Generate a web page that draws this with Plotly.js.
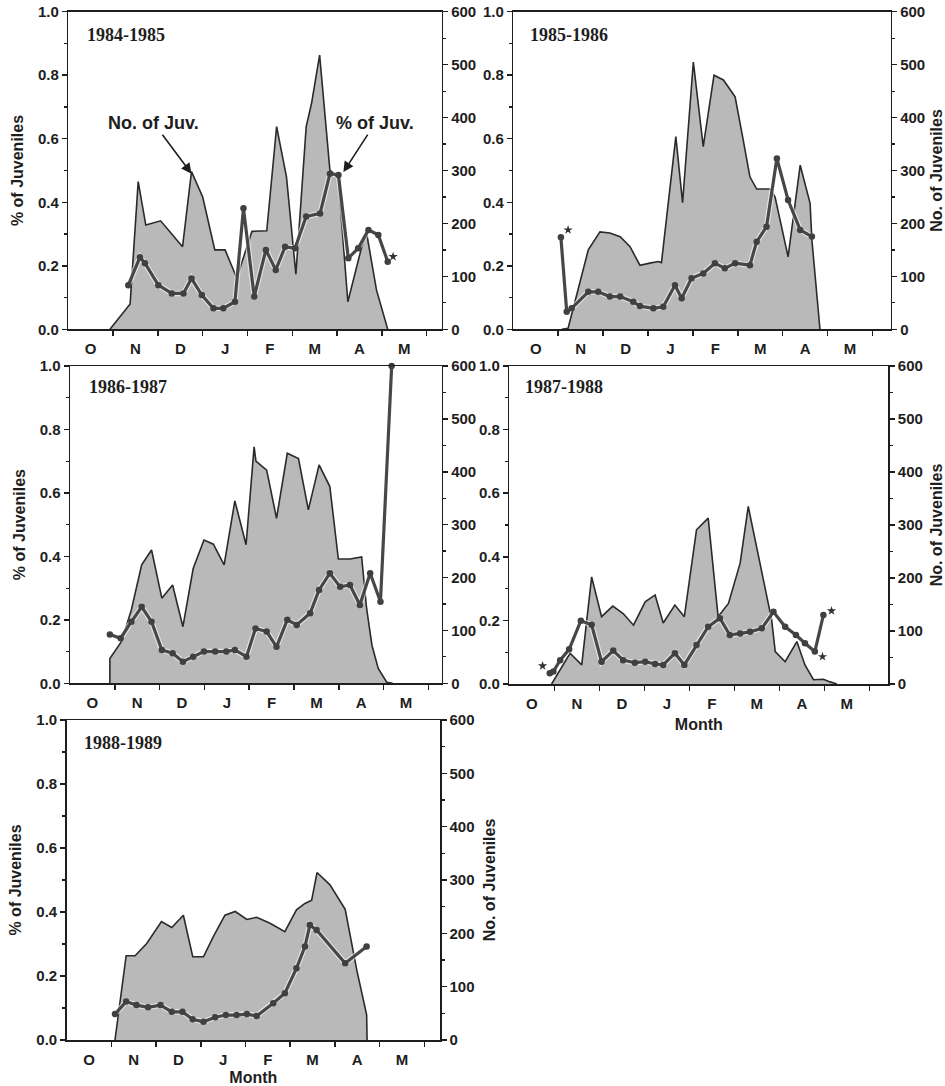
<!DOCTYPE html>
<html><head><meta charset="utf-8">
<script src="https://cdn.plot.ly/plotly-3.0.1.min.js"></script>
<style>html,body{margin:0;padding:0;background:#fff}</style>
</head><body><div id="chart" style="width:945px;height:1086px"></div>
<script>
// ---------- data ----------
const monthLabels = ['O','N','D','J','F','M','A','M'];
const monthCenters = [0.5,1.5,2.5,3.5,4.5,5.5,6.5,7.5];
const monthBounds = [1,2,3,4,5,6,7,8];
const seasons = ['1984-1985','1985-1986','1986-1987','1987-1988','1988-1989'];

// x values are in months since 1 October
const areaX1 = [0.93,1.38,1.56,1.73,2.06,2.55,2.75,3.00,3.27,3.50,3.76,4.10,4.43,4.65,4.87,5.08,5.31,5.43,5.61,5.84,6.02,6.24,6.55,6.66,6.88,7.13];
const areaN1 = [0,48,279,197,205,156,298,250,150,150,97,185,186,383,288,104,383,427,518,300,290,52,156,181,74,0];
const pctX1 = [1.34,1.60,1.71,2.01,2.31,2.57,2.75,2.98,3.24,3.46,3.72,3.91,4.15,4.41,4.63,4.84,5.06,5.31,5.62,5.84,6.03,6.25,6.47,6.70,6.92,7.13];
const pctP1 = [0.139,0.227,0.208,0.139,0.113,0.113,0.160,0.108,0.066,0.066,0.087,0.381,0.103,0.25,0.187,0.26,0.255,0.355,0.365,0.49,0.486,0.224,0.255,0.313,0.297,0.213];
const starX1 = [7.25]; const starP1 = [0.229];

const areaX2 = [1.08,1.22,1.67,1.93,2.15,2.38,2.60,2.82,3.04,3.23,3.30,3.62,3.77,4.01,4.23,4.47,4.68,4.94,5.12,5.27,5.42,5.72,5.83,6.12,6.39,6.61,6.65,6.83];
const areaN2 = [0,2,150,184,182,175,156,121,125,128,126,364,239,505,345,480,471,439,358,288,265,265,250,137,310,238,169,0];
const pctX2 = [1.06,1.19,1.30,1.67,1.89,2.15,2.38,2.67,2.82,3.12,3.34,3.60,3.75,3.97,4.23,4.49,4.71,4.94,5.27,5.42,5.64,5.87,6.12,6.39,6.65];
const pctP2 = [0.29,0.055,0.066,0.118,0.118,0.103,0.103,0.087,0.073,0.066,0.071,0.139,0.098,0.161,0.176,0.208,0.192,0.208,0.202,0.276,0.323,0.538,0.407,0.313,0.292];
const starX2 = [1.22]; const starP2 = [0.313];

const areaX3 = [0.89,0.89,1.15,1.37,1.60,1.82,2.05,2.29,2.52,2.75,2.99,3.20,3.44,3.68,3.93,4.11,4.15,4.39,4.61,4.85,5.10,5.32,5.56,5.80,5.99,6.25,6.51,6.62,6.74,6.88,7.07,7.20];
const areaN3 = [0,47,79,139,224,252,161,186,107,217,271,263,224,345,262,447,420,403,312,435,425,328,413,372,235,235,239,142,72,28,2,0];
const pctX3 = [0.89,1.13,1.37,1.60,1.82,2.05,2.29,2.52,2.75,2.99,3.24,3.49,3.68,3.94,4.14,4.39,4.61,4.85,5.06,5.36,5.56,5.80,6.03,6.25,6.47,6.70,6.93,7.18];
const pctP3 = [0.154,0.142,0.194,0.241,0.194,0.105,0.095,0.068,0.084,0.1,0.1,0.1,0.105,0.084,0.173,0.163,0.115,0.2,0.184,0.221,0.294,0.347,0.304,0.31,0.247,0.347,0.257,1.0];
const starX3 = [7.33]; const starP3 = [1.013];

const areaX4 = [0.94,1.35,1.61,1.83,2.05,2.30,2.53,2.76,3.02,3.24,3.42,3.68,3.89,4.16,4.42,4.64,4.87,5.13,5.31,5.57,5.83,5.91,6.13,6.39,6.57,6.76,6.98,7.13,7.28];
const areaN4 = [0,58,36,202,127,147,133,111,155,168,115,149,127,291,313,127,152,228,335,228,121,61,42,80,36,8,9,4,0];
const pctX4 = [0.90,0.98,1.13,1.33,1.59,1.83,2.05,2.31,2.53,2.79,3.02,3.24,3.42,3.68,3.89,4.16,4.42,4.68,4.90,5.13,5.35,5.61,5.87,6.13,6.37,6.57,6.79,6.98];
const pctP4 = [0.034,0.039,0.075,0.109,0.199,0.186,0.070,0.105,0.075,0.067,0.070,0.063,0.060,0.097,0.060,0.123,0.180,0.207,0.154,0.159,0.164,0.175,0.227,0.180,0.154,0.128,0.102,0.217];
const starX4 = [0.74,6.96,7.16]; const starP4 = [0.057,0.086,0.230];

const areaX5 = [1.08,1.33,1.53,1.79,2.12,2.35,2.61,2.82,3.06,3.28,3.54,3.77,4.03,4.25,4.55,4.88,5.14,5.33,5.48,5.60,5.89,6.23,6.49,6.71,6.72];
const areaN5 = [0,158,158,181,222,211,234,156,156,194,234,241,226,230,219,203,244,256,262,314,291,245,131,47,0];
const pctX5 = [1.08,1.33,1.56,1.82,2.10,2.35,2.59,2.82,3.06,3.32,3.56,3.80,4.03,4.25,4.62,4.88,5.14,5.33,5.44,5.59,6.23,6.71];
const pctP5 = [0.081,0.12,0.109,0.102,0.109,0.088,0.088,0.065,0.057,0.071,0.078,0.078,0.081,0.075,0.115,0.146,0.224,0.292,0.359,0.344,0.240,0.292];
const starX5 = []; const starP5 = [];

const pctTicks = [0,0.2,0.4,0.6,0.8,1.0];
const pctTickText = ['0.0','0.2','0.4','0.6','0.8','1.0'];
const pctMinor = [0.1,0.3,0.5,0.7,0.9];
const numTicks = [0,100,200,300,400,500,600];
const numMinor = [50,150,250,350,450,550];

// ---------- layout helpers ----------
const W = 945, H = 1086;
const panels = [
  {area:[areaX1,areaN1], pct:[pctX1,pctP1], star:[starX1,starP1], px:[68.3,441.7], py:[11.7,329.3], mw:44.8, left:true,  right:false, month:false, yr:[0.045,0.927]},
  {area:[areaX2,areaN2], pct:[pctX2,pctP2], star:[starX2,starP2], px:[513.3,890.7], py:[11.7,329.3], mw:44.9, left:false, right:true,  month:false, yr:[0.040,0.927]},
  {area:[areaX3,areaN3], pct:[pctX3,pctP3], star:[starX3,starP3], px:[70,441.7], py:[366,683.3], mw:44.8, left:true,  right:false, month:false, yr:[0.045,0.935]},
  {area:[areaX4,areaN4], pct:[pctX4,pctP4], star:[starX4,starP4], px:[509.3,888.3], py:[366,684], mw:45.0, left:false, right:true,  month:true,  yr:[0.037,0.935]},
  {area:[areaX5,areaN5], pct:[pctX5,pctP5], star:[starX5,starP5], px:[66.7,440], py:[720,1040], mw:44.7, left:true,  right:true,  month:true,  yr:[0.040,0.927]}
];

const SANS = 'Liberation Sans, Arial, Helvetica, sans-serif';
const SERIF = 'Liberation Serif, Times New Roman, serif';
const INK = '#1e1e1e';
const tickFont = {family:SANS, size:15, color:INK, weight:'bold'};
const titleFont = {family:SANS, size:16, color:INK, weight:'bold'};

const data = [];
const layout = {
  width:W, height:H, margin:{l:0,r:0,t:0,b:0},
  paper_bgcolor:'#fff', plot_bgcolor:'rgba(0,0,0,0)',
  showlegend:false, annotations:[]
};

panels.forEach((p,i)=>{
  const n = i+1;
  const xid = n===1 ? 'x' : 'x'+n;
  const xkey = n===1 ? 'xaxis' : 'xaxis'+n;
  const yNoId = 'y'+(2*i+1 === 1 ? '' : (2*i+1));
  const yNoKey = 'yaxis'+(2*i+1 === 1 ? '' : (2*i+1));
  const yPctId = 'y'+(2*i+2);
  const yPctKey = 'yaxis'+(2*i+2);
  const dx = [p.px[0]/W, p.px[1]/W];
  const dy = [1-p.py[1]/H, 1-p.py[0]/H];
  const xmax = (p.px[1]-p.px[0])/p.mw;

  layout[xkey] = {
    domain:dx, anchor:yNoId, range:[0,xmax],
    tickmode:'array', tickvals:monthCenters, ticktext:monthLabels,
    ticks:'outside', ticklen:5, tickcolor:'rgba(0,0,0,0)',
    minor:{tickmode:'array', tickvals:monthBounds, ticks:'outside', ticklen:5, tickwidth:1.5, tickcolor:INK, showgrid:false},
    showline:true, linecolor:INK, linewidth:1.5, mirror:true,
    showgrid:false, zeroline:false, tickfont:tickFont, automargin:false, fixedrange:true
  };
  if (p.month) layout[xkey].title = {text:'Month', font:titleFont, standoff:8};

  layout[yNoKey] = {
    domain:dy, anchor:xid, side:'right', range:[0,600],
    tickmode:'array', tickvals:numTicks, ticks:'outside', ticklen:5, tickwidth:1.5, tickcolor:INK,
    minor:{tickmode:'array', tickvals:numMinor, ticks:'outside', ticklen:3, tickwidth:1.2, tickcolor:INK, showgrid:false},
    showline:true, linecolor:INK, linewidth:1.5, showgrid:false, zeroline:false,
    tickfont:tickFont, automargin:false, fixedrange:true
  };
  if (p.right) layout[yNoKey].title = {text:'No. of Juveniles', font:titleFont, standoff:10};

  layout[yPctKey] = {
    overlaying:yNoId, anchor:xid, side:'left', range:[0,1],
    tickmode:'array', tickvals:pctTicks, ticktext:pctTickText, ticks:'outside', ticklen:5, tickwidth:1.5, tickcolor:INK,
    minor:{tickmode:'array', tickvals:pctMinor, ticks:'outside', ticklen:3, tickwidth:1.2, tickcolor:INK, showgrid:false},
    showline:true, linecolor:INK, linewidth:1.5, showgrid:false, zeroline:false,
    tickfont:tickFont, automargin:false, fixedrange:true
  };
  if (p.left) layout[yPctKey].title = {text:'% of Juveniles', font:titleFont, standoff:10};

  // area: number of juveniles (right axis)
  data.push({
    type:'scatter', mode:'lines', x:p.area[0], y:p.area[1], xaxis:xid, yaxis:yNoId,
    fill:'tozeroy', fillcolor:'#b9b9b9',
    line:{color:'#2a2a2a', width:1.6}, hoverinfo:'skip', name:'No. of Juv.'
  });
  // light halo under percent line
  data.push({
    type:'scatter', mode:'lines', x:p.pct[0], y:p.pct[1], xaxis:xid, yaxis:yPctId,
    line:{color:'rgba(255,255,255,0.6)', width:5.5}, hoverinfo:'skip', cliponaxis:false
  });
  // percent of juveniles (left axis)
  data.push({
    type:'scatter', mode:'lines+markers', x:p.pct[0], y:p.pct[1], xaxis:xid, yaxis:yPctId,
    line:{color:'#474747', width:3.2}, marker:{color:'#404040', size:6.5, symbol:'circle'},
    name:'% of Juv.', cliponaxis:false
  });
  if (p.star[0].length) {
    data.push({
      type:'scatter', mode:'markers', x:p.star[0], y:p.star[1], xaxis:xid, yaxis:yPctId,
      marker:{symbol:'star', size:7, color:'#333'}, cliponaxis:false, hoverinfo:'skip'
    });
  }

  layout.annotations.push({
    text:seasons[i], xref:xid+' domain', yref:yNoId+' domain', x:p.yr[0], y:p.yr[1],
    xanchor:'left', yanchor:'middle', showarrow:false,
    font:{family:SERIF, size:18, color:INK, weight:'bold'}
  });
});

// pointer labels in the first panel
layout.annotations.push({
  text:'No. of Juv.', xref:'x', yref:'y2', x:2.75, y:0.49, axref:'x', ayref:'y2', ax:1.91, ay:0.649,
  showarrow:true, arrowhead:2, arrowsize:1.3, arrowwidth:1.6, arrowcolor:INK,
  font:{family:SANS, size:18, color:INK, weight:'bold'}
});
layout.annotations.push({
  text:'% of Juv.', xref:'x', yref:'y2', x:6.14, y:0.495, axref:'x', ayref:'y2', ax:6.85, ay:0.649,
  showarrow:true, arrowhead:2, arrowsize:1.3, arrowwidth:1.6, arrowcolor:INK,
  font:{family:SANS, size:18, color:INK, weight:'bold'}
});

Plotly.newPlot('chart', data, layout, {displayModeBar:false, staticPlot:true});
</script></body></html>
